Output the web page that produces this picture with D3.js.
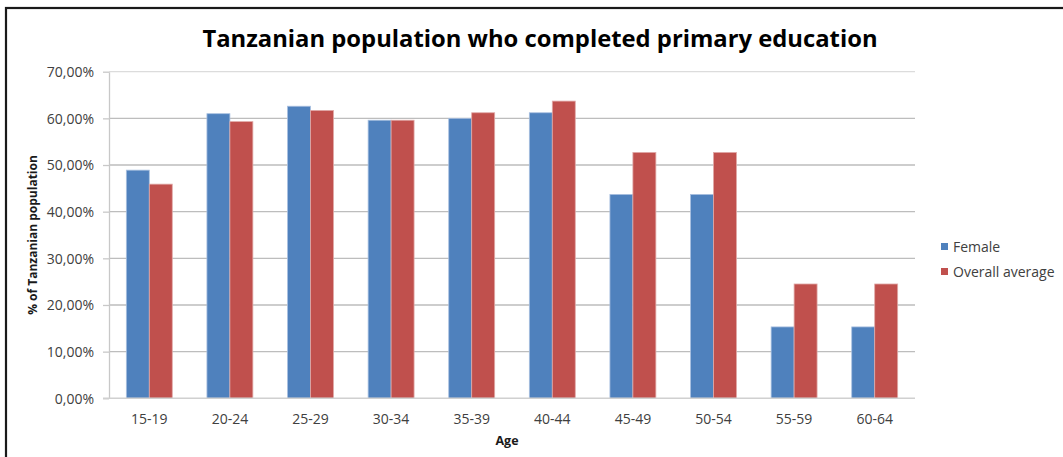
<!DOCTYPE html>
<html>
<head>
<meta charset="utf-8">
<script src="https://cdn.jsdelivr.net/npm/d3@7"></script>
<style>
  html, body { margin: 0; padding: 0; background: #fff; }
  svg { display: block; }
</style>
</head>
<body>
<svg id="chart" width="1063" height="457"></svg>
<script>
// Age groups and completion shares (%)
const ageGroups = ["15-19", "20-24", "25-29", "30-34", "35-39", "40-44", "45-49", "50-54", "55-59", "60-64"];
const female = [48.9, 61.0, 62.6, 59.6, 60.0, 61.2, 43.7, 43.7, 15.3, 15.3];
const overallAverage = [45.9, 59.3, 61.7, 59.6, 61.2, 63.7, 52.7, 52.7, 24.5, 24.5];
const seriesNames = ["Female", "Overall average"];
const seriesColors = ["#4F81BD", "#C0504D"];
const yTicks = [0, 10, 20, 30, 40, 50, 60, 70];

const svg = d3.select("#chart");
const W = 1063, H = 457;
const plot = { left: 109, right: 915, top: 71.7, bottom: 398.3 };

// Outer frame (open at right and bottom edges)
svg.append("rect")
  .attr("x", 6).attr("y", 8)
  .attr("width", W + 10).attr("height", H + 10)
  .attr("fill", "#fff").attr("stroke", "#1a1a1a").attr("stroke-width", 2.2);

const x = d3.scaleBand().domain(ageGroups)
  .range([plot.left, plot.right]).paddingInner(0.43).paddingOuter(0.215);
const xs = d3.scaleBand().domain(seriesNames).range([0, x.bandwidth()]);
const y = d3.scaleLinear().domain([0, 70]).range([plot.bottom, plot.top]);

const font = "'Open Sans', 'DejaVu Sans', sans-serif";

// Gridlines
svg.append("g").selectAll("line").data(yTicks.filter(d => d > 0)).join("line")
  .attr("x1", plot.left).attr("x2", plot.right)
  .attr("y1", d => y(d)).attr("y2", d => y(d))
  .attr("stroke", d => d === 70 ? "#dcdcdc" : "#bdbdbd").attr("stroke-width", 1.3);

// Y axis
const yAxis = svg.append("g").attr("transform", `translate(${plot.left},0)`)
  .call(d3.axisLeft(y).tickValues(yTicks).tickSize(6).tickSizeOuter(0)
    .tickFormat(d => d3.format(".2f")(d).replace(".", ",") + "%"));
yAxis.select(".domain").attr("stroke", "#c8c8c8").attr("stroke-width", 1.3);
yAxis.selectAll(".tick line").attr("stroke", "#c8c8c8").attr("stroke-width", 1.3);
yAxis.selectAll(".tick text").attr("x", -15).attr("dy", "0.35em")
  .attr("font-family", font).attr("font-size", 14).attr("fill", "#404040");

// Bars
const groups = svg.append("g").selectAll("g").data(ageGroups).join("g")
  .attr("transform", d => `translate(${x(d)},0)`);
groups.selectAll("rect")
  .data((d, i) => [
    { s: seriesNames[0], v: female[i] },
    { s: seriesNames[1], v: overallAverage[i] }
  ])
  .join("rect")
  .attr("x", d => xs(d.s))
  .attr("width", xs.bandwidth())
  .attr("y", d => y(d.v))
  .attr("height", d => y(0) - y(d.v))
  .attr("fill", (d, i) => seriesColors[i])
  .attr("stroke", (d, i) => i === 0 ? "#a9c0e0" : "#e0a9a7")
  .attr("stroke-width", 0.8);

// X axis baseline
const xAxis = svg.append("g").attr("transform", `translate(0,${plot.bottom})`)
  .call(d3.axisBottom(x).tickSize(0).tickSizeOuter(0));
xAxis.select(".domain").remove();
svg.append("line")
  .attr("x1", plot.left - 6).attr("x2", plot.right)
  .attr("y1", plot.bottom).attr("y2", plot.bottom)
  .attr("stroke", "#d0d0d0").attr("stroke-width", 1.5);
xAxis.selectAll(".tick text").attr("dy", 0).attr("y", 26)
  .attr("font-family", font).attr("font-size", 14).attr("fill", "#404040");

// Title
svg.append("text")
  .attr("x", 540).attr("y", 47).attr("text-anchor", "middle")
  .attr("font-family", font).attr("font-weight", "bold").attr("font-size", 23.8)
  .attr("fill", "#000")
  .text("Tanzanian population who completed primary education");

// Axis titles
svg.append("text")
  .attr("transform", "translate(37,235) rotate(-90)").attr("text-anchor", "middle")
  .attr("font-family", font).attr("font-weight", "bold").attr("font-size", 12)
  .attr("fill", "#1a1a1a")
  .text("% of Tanzanian population");
svg.append("text")
  .attr("x", 507).attr("y", 445).attr("text-anchor", "middle")
  .attr("font-family", font).attr("font-weight", "bold").attr("font-size", 12.5)
  .attr("fill", "#1a1a1a")
  .text("Age");

// Legend
const legend = svg.append("g").selectAll("g").data(seriesNames).join("g")
  .attr("transform", (d, i) => `translate(941,${243 + i * 25})`);
legend.append("rect").attr("width", 7).attr("height", 7)
  .attr("fill", (d, i) => seriesColors[i]);
legend.append("text").attr("x", 12).attr("y", 8.5)
  .attr("font-family", font).attr("font-size", 14).attr("fill", "#404040")
  .text(d => d);
</script>
</body>
</html>
